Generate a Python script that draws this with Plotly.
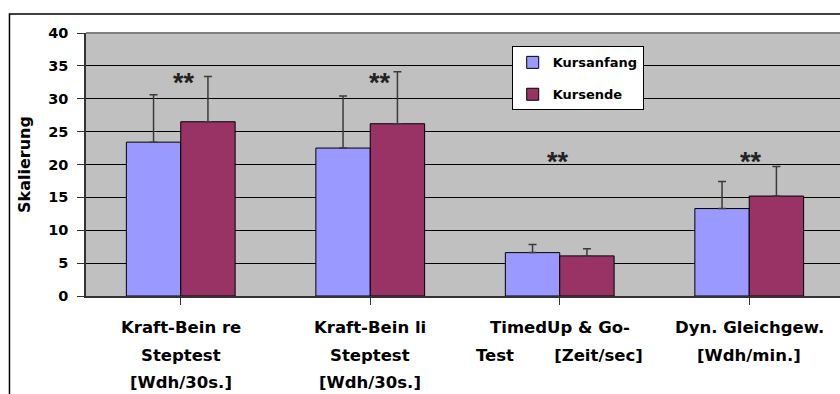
import plotly.graph_objects as go

# ---- data ----
categories = ["Kraft-Bein re Steptest", "Kraft-Bein li Steptest", "TimedUp & Go-Test", "Dyn. Gleichgew."]
cat_label_lines = [
    ["Kraft-Bein re", "Steptest", "[Wdh/30s.]"],
    ["Kraft-Bein li", "Steptest", "[Wdh/30s.]"],
    ["TimedUp & Go-", "Test" + "\u00a0" * 7 + "[Zeit/sec]"],
    ["Dyn. Gleichgew.", "[Wdh/min.]"],
]
kursanfang = [23.4, 22.5, 6.6, 13.3]
kursende = [26.5, 26.2, 6.1, 15.2]
sd_kursanfang = [7.2, 7.9, 1.25, 4.1]
sd_kursende = [6.9, 7.9, 1.1, 4.5]
significance = ["**", "**", "**", "**"]
y_ticks = [0, 5, 10, 15, 20, 25, 30, 35, 40]

FONT = "DejaVu Sans"
x_idx = list(range(len(categories)))

fig = go.Figure()
fig.add_trace(go.Bar(
    name="Kursanfang", x=x_idx, y=kursanfang, legendgroup="a",
    marker=dict(color="#9999FF", line=dict(color="#000000", width=1)),
    error_y=dict(type="data", symmetric=False, array=sd_kursanfang,
                 arrayminus=[0] * len(kursanfang), color="#3a3a3a", thickness=1.5, width=4),
))
fig.add_trace(go.Bar(
    name="Kursende", x=x_idx, y=kursende, legendgroup="b",
    marker=dict(color="#993366", line=dict(color="#000000", width=1)),
    error_y=dict(type="data", symmetric=False, array=sd_kursende,
                 arrayminus=[0] * len(kursende), color="#3a3a3a", thickness=1.5, width=4),
))

annotations = []
# category labels, one annotation per line (wide line spacing)
line_offsets = [31.5, 59.0, 86.5]
for i, lines in enumerate(cat_label_lines):
    for j, txt in enumerate(lines):
        annotations.append(dict(
            x=i, xref="x", y=0, yref="paper", text=txt, showarrow=False,
            xanchor="center", yanchor="middle", yshift=-line_offsets[j],
            font=dict(family=FONT, size=16.5, color="#000000", weight="bold"),
        ))
# significance markers
star_pos = [(0.016, 33.3), (0.049, 33.3), (-0.011, 21.35), (0.009, 21.35)]
for i, s in enumerate(significance):
    dx, yv = star_pos[i]
    annotations.append(dict(
        x=i + dx, xref="x", y=yv, yref="y", text=s, showarrow=False,
        xanchor="center", yanchor="middle", yshift=-6,
        font=dict(family="Liberation Sans", size=27, color="#222222", weight="bold"),
    ))

shapes = [
    # outer chart frame (extends past the visible window)
    dict(type="rect", xref="paper", yref="paper", x0=-0.1015, y0=-0.6, x1=1.05, y1=1.0722,
         line=dict(color="#000000", width=1.5), fillcolor="rgba(0,0,0,0)", layer="below"),
    # plot-area top border
    dict(type="line", xref="paper", yref="paper", x0=0, y0=1, x1=1, y1=1,
         line=dict(color="#808080", width=2), layer="above"),
]

fig.update_layout(
    width=840, height=394,
    margin=dict(l=86, r=0, t=33, b=98, autoexpand=False),
    paper_bgcolor="#FFFFFF", plot_bgcolor="#C0C0C0",
    barmode="group", bargap=0.426, bargroupgap=0,
    font=dict(family=FONT, size=14, color="#000000"),
    showlegend=True,
    legend=dict(
        x=0.5646, y=0.949, xanchor="left", yanchor="top",
        bgcolor="#FFFFFF", bordercolor="#000000", borderwidth=1,
        font=dict(family=FONT, size=13, color="#000000", weight="bold"),
        tracegroupgap=12, traceorder="grouped",
    ),
    xaxis=dict(
        range=[-0.5, 3.479], tickvals=x_idx, showticklabels=False,
        ticks="outside", tickson="boundaries", ticklen=7, tickcolor="#333333", tickwidth=1,
        showline=True, linecolor="#333333", linewidth=1.5,
        showgrid=False, zeroline=False, fixedrange=True,
    ),
    yaxis=dict(
        range=[0, 40], tickvals=y_ticks, ticktext=[str(v) for v in y_ticks],
        ticks="outside", ticklen=7, tickcolor="#333333", tickwidth=1,
        ticklabelstandoff=6,
        tickfont=dict(family=FONT, size=14.5, color="#000000", weight="bold"),
        showline=True, linecolor="#333333", linewidth=1.5,
        showgrid=True, gridcolor="#000000", gridwidth=1, zeroline=False,
        title=dict(text="Skalierung", standoff=14,
                   font=dict(family=FONT, size=16, color="#000000", weight="bold")),
        fixedrange=True,
    ),
    annotations=annotations,
    shapes=shapes,
)

fig.write_html(
    "out.html",
    config={"displayModeBar": False},
    post_script="document.body.style.margin='0';document.body.style.overflow='hidden';",
)
